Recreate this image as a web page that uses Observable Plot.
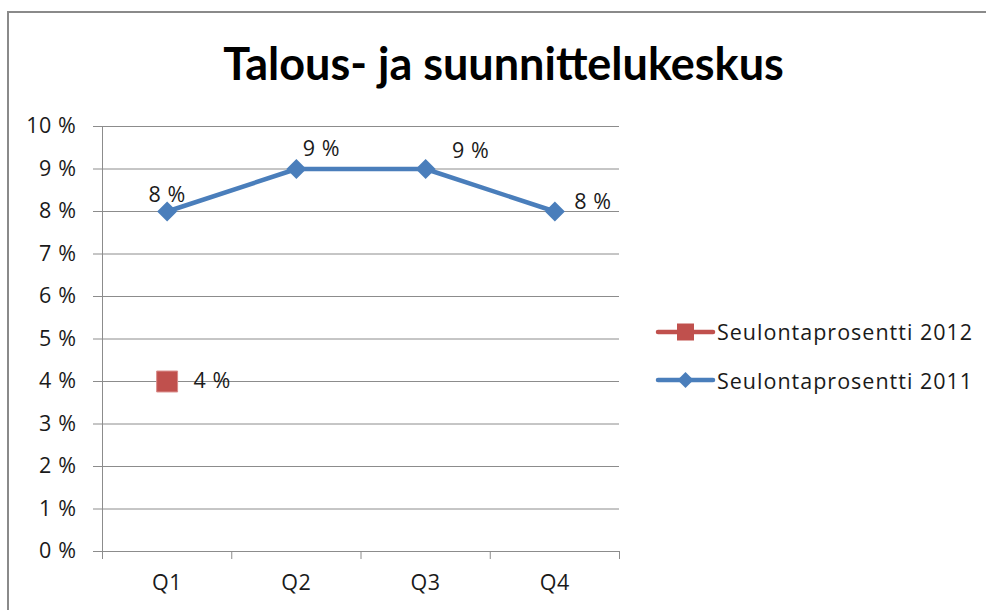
<!DOCTYPE html>
<html>
<head>
<meta charset="utf-8">
<script src="https://cdn.jsdelivr.net/npm/d3@7"></script>
<script src="https://cdn.jsdelivr.net/npm/@observablehq/plot@0.6"></script>
<style>
  body { margin: 0; background: #fff; }
  #wrap { position: relative; width: 986px; height: 610px; overflow: hidden; font-family: "Open Sans", sans-serif; }
  #frame { position: absolute; left: 7px; top: 11px; width: 1100px; height: 800px; border-left: 2px solid #8a8a8a; border-top: 2px solid #8a8a8a; }
  #chart, #overlay { position: absolute; left: 0; top: 0; }
  #chart text { letter-spacing: 0.6px; }
</style>
</head>
<body>
<div id="wrap">
  <div id="frame"></div>
  <div id="chart"></div>
  <svg id="overlay" width="986" height="610"></svg>
</div>
<script>
// ---- data ----
const chartTitle = "Talous- ja suunnittelukeskus";
const quarters = ["Q1", "Q2", "Q3", "Q4"];
const values2011 = [8, 9, 9, 8];
const values2012 = [4, null, null, null];
const seriesNames = ["Seulontaprosentti 2012", "Seulontaprosentti 2011"];
const yTicks = [0, 1, 2, 3, 4, 5, 6, 7, 8, 9, 10];

// ---- styling (not data) ----
const blue = "#4A7EBB";
const red = "#C0504D";
const gray = "#8c8c8c";
const textColor = "#1a1a1a";
const font = "'Open Sans', sans-serif";
const fs = 21.5;
const labelOffsets2011 = [[0, -16], [25, -20], [45, -18], [38, -9]];
const labelOffsets2012 = [[45, 0], [0, 0], [0, 0], [0, 0]];

const rows2011 = quarters.map((q, i) => ({q, x: i + 1, y: values2011[i]}));
const rows2012 = quarters.map((q, i) => ({q, x: i + 1, y: values2012[i]})).filter(d => d.y != null);
const pct = d => `${d} %`;

const labelMarks = [
  ...rows2011.map((d, i) => Plot.text([d], {x: "x", y: "y", text: d => pct(d.y), dx: labelOffsets2011[i][0], dy: labelOffsets2011[i][1], fill: textColor, fontSize: fs})),
  ...rows2012.map((d, i) => Plot.text([d], {x: "x", y: "y", text: d => pct(d.y), dx: labelOffsets2012[i][0], dy: labelOffsets2012[i][1], fill: textColor, fontSize: fs}))
];

const plot = Plot.plot({
  width: 986,
  height: 610,
  marginTop: 126,
  marginBottom: 59,
  marginLeft: 102,
  marginRight: 367,
  style: {fontFamily: font, fontSize: fs + "px", color: textColor, background: "transparent"},
  x: {domain: [0.5, quarters.length + 0.5]},
  y: {domain: [0, 10]},
  marks: [
    Plot.gridY(yTicks, {stroke: gray, strokeOpacity: 1, strokeWidth: 1}),
    Plot.axisY(yTicks, {tickSize: 9, tickPadding: 17, tickFormat: pct, stroke: gray, strokeOpacity: 1, fill: textColor, fontSize: fs, label: null}),
    Plot.ruleX([0.5], {stroke: gray}),
    Plot.axisX(d3.range(0.5, quarters.length + 1, 1), {tickSize: 8, text: null, stroke: gray, strokeOpacity: 1, label: null}),
    Plot.axisX(quarters.map((q, i) => i + 1), {tickSize: 0, tickPadding: 23, tickFormat: d => quarters[d - 1], fill: textColor, fontSize: fs, label: null}),
    Plot.line(rows2011, {x: "x", y: "y", stroke: blue, strokeWidth: 4.5}),
    Plot.dot(rows2011, {x: "x", y: "y", symbol: "diamond2", r: 9, fill: blue, stroke: "none"}),
    Plot.dot(rows2012, {x: "x", y: "y", symbol: "square", r: 11.8, fill: red, stroke: "#d98a88", strokeWidth: 1}),
    ...labelMarks
  ]
});
document.getElementById("chart").appendChild(plot);

// ---- title & legend overlay ----
const ov = d3.select("#overlay");
ov.append("text")
  .attr("x", 503.5).attr("y", 80)
  .attr("text-anchor", "middle")
  .attr("font-family", "Lato, 'Open Sans', sans-serif")
  .attr("font-weight", "bold")
  .attr("font-size", 45)
  .attr("fill", "#000")
  .text(chartTitle);

const legendItems = [
  {name: seriesNames[0], color: red, symbol: d3.symbolSquare, size: 17 * 17, cy: 332, base: 340},
  {name: seriesNames[1], color: blue, symbol: d3.symbolDiamond2, size: Math.pow(8 / 0.62625, 2), cy: 380, base: 389}
];
legendItems.forEach(it => {
  const g = ov.append("g");
  g.append("line").attr("x1", 658).attr("x2", 713).attr("y1", it.cy).attr("y2", it.cy)
    .attr("stroke", it.color).attr("stroke-width", 4.5).attr("stroke-linecap", "round");
  g.append("path").attr("d", d3.symbol(it.symbol, it.size)()).attr("transform", `translate(685.5,${it.cy})`).attr("fill", it.color);
  g.append("text").attr("x", 717).attr("y", it.base)
    .attr("font-family", font).attr("font-size", fs).attr("letter-spacing", "1px").attr("fill", textColor)
    .text(it.name);
});
</script>
</body>
</html>
